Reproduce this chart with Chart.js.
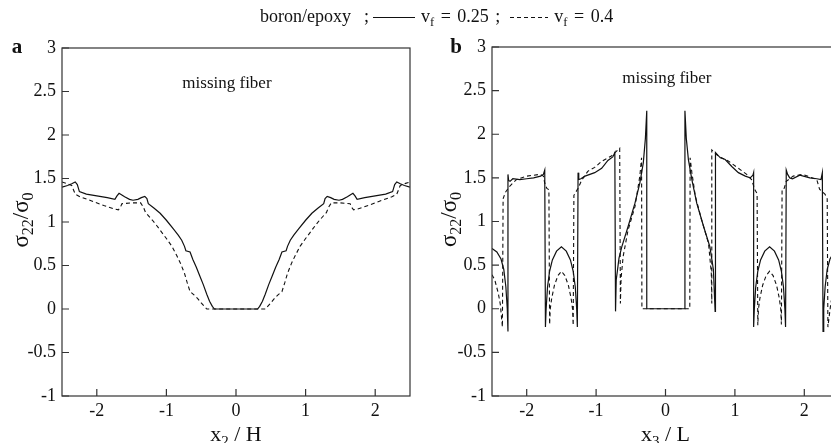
<!DOCTYPE html>
<html><head><meta charset="utf-8">
<script src="https://cdn.jsdelivr.net/npm/chart.js@4.4.0/dist/chart.umd.min.js"></script>
<style>
html,body{margin:0;padding:0;background:#fff;overflow:hidden;width:831px;height:443px;}
#wrap{position:relative;width:831px;height:443px;overflow:hidden;background:#fff;}
canvas{position:absolute;top:0;}
#ca{left:0;}
#cb{left:415px;}
#title{position:absolute;top:5px;left:260px;white-space:nowrap;font-family:'Liberation Serif','Times New Roman',serif;font-size:18px;color:#111;line-height:22px;word-spacing:2px;}
#title sub{font-size:0.7em;vertical-align:-0.3em;line-height:0;}
.ls{display:inline-block;width:42px;height:0;border-top:1.2px solid #111;vertical-align:middle;margin:0 6px 0 4px;}
.ld{display:inline-block;width:38px;height:1.2px;background:repeating-linear-gradient(to right,#111 0 4px,transparent 4px 7px);vertical-align:middle;margin:0 6px 0 10px;}
</style></head>
<body><div id="wrap">
<canvas id="ca" width="420" height="443"></canvas>
<canvas id="cb" width="434" height="443"></canvas>
<div id="title">boron/epoxy&nbsp; ;<span class="ls"></span>v<sub>f</sub>&nbsp;= 0.25 ;<span class="ld"></span>v<sub>f</sub>&nbsp;= 0.4</div>
</div>
<script>
// ---- tick labels ----
const yTicks = [-1, -0.5, 0, 0.5, 1, 1.5, 2, 2.5, 3];
const xTicks = [-2, -1, 0, 1, 2];

// ---- panel a : x2/H ----
const aSolidX = [-2.5,-2.42,-2.36,-2.31,-2.28,-2.25,-2.15,-2.0,-1.85,-1.74,-1.71,-1.68,-1.64,-1.6,-1.53,-1.48,-1.41,-1.36,-1.31,-1.28,-1.26,-1.18,-1.09,-1.0,-0.9,-0.83,-0.78,-0.74,-0.72,-0.66,-0.62,-0.57,-0.52,-0.47,-0.42,-0.38,-0.34,-0.31,
  0.31,0.34,0.38,0.42,0.47,0.52,0.57,0.62,0.66,0.72,0.74,0.78,0.83,0.9,1.0,1.09,1.18,1.26,1.28,1.31,1.36,1.41,1.48,1.53,1.6,1.64,1.68,1.71,1.74,1.85,2.0,2.15,2.25,2.28,2.31,2.36,2.42,2.5];
const aSolidY = [1.40,1.42,1.44,1.46,1.43,1.35,1.32,1.30,1.28,1.26,1.30,1.33,1.31,1.29,1.26,1.25,1.26,1.28,1.295,1.27,1.21,1.16,1.10,1.02,0.92,0.85,0.79,0.72,0.67,0.655,0.57,0.48,0.38,0.28,0.17,0.09,0.03,0.0,
  0.0,0.03,0.09,0.17,0.28,0.38,0.48,0.57,0.655,0.67,0.72,0.79,0.85,0.92,1.02,1.10,1.16,1.21,1.27,1.295,1.28,1.26,1.25,1.26,1.29,1.31,1.33,1.30,1.26,1.28,1.30,1.32,1.35,1.43,1.46,1.44,1.42,1.40];
const aDashX = [-2.5,-2.42,-2.36,-2.33,-2.31,-2.24,-2.1,-1.9,-1.75,-1.69,-1.66,-1.64,-1.5,-1.37,-1.33,-1.3,-1.2,-1.14,-1.0,-0.92,-0.855,-0.8,-0.74,-0.7,-0.66,-0.6,-0.55,-0.5,-0.42,
  0.42,0.5,0.55,0.6,0.66,0.7,0.74,0.8,0.855,0.92,1.0,1.14,1.2,1.3,1.33,1.37,1.5,1.64,1.66,1.69,1.75,1.9,2.1,2.24,2.31,2.33,2.36,2.42,2.5];
const aDashY = [1.46,1.44,1.42,1.36,1.32,1.29,1.25,1.19,1.15,1.14,1.17,1.21,1.22,1.22,1.17,1.11,1.02,0.96,0.81,0.72,0.62,0.53,0.41,0.30,0.20,0.16,0.12,0.07,0.0,
  0.0,0.07,0.12,0.16,0.20,0.30,0.41,0.53,0.62,0.72,0.81,0.96,1.02,1.11,1.17,1.22,1.22,1.21,1.17,1.14,1.15,1.19,1.25,1.29,1.32,1.36,1.42,1.44,1.46];

// ---- panel b : x3/L ----
const bSolidX = [-2.5,-2.43,-2.37,-2.33,-2.30,-2.28,-2.27,-2.27,-2.26,-2.24,-2.2,-2.1,-2.0,-1.9,-1.8,-1.76,-1.74,
  -1.73,-1.72,-1.70,-1.67,-1.63,-1.57,-1.50,-1.43,-1.37,-1.33,-1.30,-1.28,-1.27,
  -1.26,-1.25,-1.22,-1.16,-1.02,-0.92,-0.83,-0.76,-0.73,
  -0.72,-0.71,-0.67,-0.63,-0.54,-0.44,-0.37,-0.32,-0.29,-0.27,-0.27,
  0.28,0.28,0.30,0.33,0.38,0.45,0.55,0.64,0.69,0.715,
  0.72,0.79,0.86,0.955,1.05,1.15,1.22,1.26,1.27,
  1.27,1.28,1.30,1.33,1.37,1.43,1.50,1.57,1.63,1.67,1.70,1.72,1.73,
  1.74,1.76,1.79,1.83,1.935,2.08,2.18,2.24,2.26,
  2.27,2.28,2.30,2.33,2.37,2.43,2.5];
const bSolidY = [0.69,0.65,0.57,0.45,0.25,0.0,-0.26,1.54,1.47,1.46,1.49,1.48,1.49,1.50,1.52,1.54,1.59,
  -0.21,0.0,0.25,0.43,0.56,0.66,0.71,0.66,0.56,0.43,0.25,0.0,-0.21,
  1.56,1.48,1.49,1.52,1.56,1.61,1.70,1.74,1.79,
  -0.03,0.33,0.58,0.71,0.94,1.21,1.44,1.67,1.95,2.27,0.0,
  0.0,2.27,1.95,1.71,1.48,1.21,0.94,0.71,0.45,-0.03,
  1.79,1.73,1.71,1.63,1.56,1.52,1.50,1.53,1.56,
  -0.21,0.0,0.25,0.43,0.56,0.66,0.71,0.66,0.56,0.43,0.25,0.0,-0.21,
  1.59,1.54,1.50,1.49,1.53,1.50,1.49,1.48,1.56,
  -0.26,0.0,0.25,0.45,0.57,0.65,0.69];
const bDashX = [-2.5,-2.46,-2.41,-2.38,-2.35,
  -2.34,-2.31,-2.25,-2.2,-2.15,-2.0,-1.81,-1.76,-1.74,-1.71,-1.68,
  -1.67,-1.66,-1.64,-1.60,-1.55,-1.50,-1.45,-1.40,-1.36,-1.34,-1.33,
  -1.32,-1.29,-1.26,-1.21,-1.12,-1.02,-0.92,-0.78,-0.66,
  -0.65,-0.64,-0.61,-0.54,-0.44,-0.37,-0.345,-0.34,
  0.35,0.355,0.38,0.43,0.52,0.62,0.66,0.667,
  0.667,0.76,0.91,1.05,1.17,1.24,1.29,1.32,
  1.33,1.34,1.36,1.40,1.45,1.50,1.55,1.60,1.64,1.66,1.67,
  1.68,1.71,1.74,1.84,1.98,2.18,2.22,2.30,2.33,
  2.34,2.38,2.41,2.46,2.5];
const bDashY = [0.39,0.33,0.18,0.05,-0.21,
  1.26,1.33,1.40,1.44,1.48,1.52,1.54,1.52,1.44,1.38,1.365,
  -0.18,0.0,0.12,0.27,0.38,0.43,0.38,0.27,0.12,0.0,-0.19,
  1.30,1.34,1.38,1.47,1.575,1.62,1.69,1.75,1.84,
  0.06,0.35,0.60,0.90,1.17,1.52,1.73,0.0,
  0.0,1.73,1.56,1.29,1.02,0.75,0.41,0.06,
  1.82,1.75,1.69,1.61,1.54,1.48,1.36,1.32,
  -0.19,0.0,0.12,0.27,0.38,0.43,0.38,0.27,0.12,0.0,-0.18,
  1.37,1.38,1.46,1.52,1.54,1.48,1.37,1.31,1.26,
  -0.21,0.05,0.18,0.33,0.39];

const FF = "'Liberation Serif','Times New Roman',serif";
const INK = '#111';

function pts(xs, ys){ return xs.map((x,i)=>({x:x, y:ys[i]})); }

function drawRich(ctx, segs, cx, cy, size, rot){
  ctx.save();
  ctx.translate(cx, cy);
  if (rot) ctx.rotate(rot);
  ctx.fillStyle = INK;
  ctx.textBaseline = 'alphabetic';
  ctx.textAlign = 'left';
  let w = 0;
  segs.forEach(s=>{ ctx.font = (s.sub ? Math.round(size*0.68) : size) + 'px ' + FF; s.w = ctx.measureText(s.t).width; w += s.w; });
  let x = -w/2;
  segs.forEach(s=>{
    ctx.font = (s.sub ? Math.round(size*0.68) : size) + 'px ' + FF;
    ctx.fillText(s.t, x, size*0.35 + (s.sub ? size*0.22 : 0));
    x += s.w;
  });
  ctx.restore();
}

function deco(cfg){
  return {
    id: 'deco',
    afterDraw(chart){
      const ctx = chart.ctx, a = chart.chartArea;
      const xs = chart.scales.x, ys = chart.scales.y;
      ctx.save();
      ctx.strokeStyle = '#333';
      ctx.lineWidth = 1.2;
      ctx.strokeRect(a.left, a.top, a.right - a.left, a.bottom - a.top);
      ctx.beginPath();
      yTicks.forEach(v=>{ const y = ys.getPixelForValue(v); ctx.moveTo(a.left, y); ctx.lineTo(a.left + 7, y); });
      xTicks.forEach(v=>{ const x = xs.getPixelForValue(v); ctx.moveTo(x, a.bottom); ctx.lineTo(x, a.bottom - 7); });
      ctx.stroke();
      ctx.restore();
      ctx.save();
      ctx.fillStyle = INK;
      ctx.font = 'bold 21px ' + FF;
      ctx.textAlign = 'center';
      ctx.textBaseline = 'alphabetic';
      ctx.fillText(cfg.letter, cfg.letterX, 53);
      ctx.font = '17px ' + FF;
      ctx.fillText('missing fiber', xs.getPixelForValue(cfg.noteX), ys.getPixelForValue(cfg.noteY));
      ctx.restore();
      drawRich(ctx, cfg.xTitle, xs.getPixelForValue(0), 433, 22, 0);
      drawRich(ctx, cfg.yTitle, cfg.yTitleX, (a.top + a.bottom)/2 - 2, 23, -Math.PI/2);
    }
  };
}

function makeChart(id, solid, dashed, yW, padTop, cfg){
  return new Chart(document.getElementById(id), {
    type: 'line',
    data: { datasets: [
      { data: solid, borderColor: INK, borderWidth: 1.2, pointRadius: 0, tension: 0, fill: false },
      { data: dashed, borderColor: INK, borderWidth: 1.1, borderDash: [4,3], pointRadius: 0, tension: 0, fill: false }
    ]},
    options: {
      responsive: false, animation: false, events: [],
      layout: { padding: { top: padTop, right: 10, left: 0, bottom: 0 } },
      plugins: { legend: { display: false }, tooltip: { enabled: false }, title: { display: false } },
      scales: {
        x: { type: 'linear', min: -2.5, max: 2.5,
          afterBuildTicks: s => { s.ticks = xTicks.map(v=>({value:v})); },
          afterFit: s => { s.height = 47; },
          grid: { display: false, drawTicks: false }, border: { display: false },
          ticks: { font: { family: FF, size: 18 }, color: INK, padding: 4, maxRotation: 0, callback: v => String(v) } },
        y: { type: 'linear', min: -1, max: 3,
          afterBuildTicks: s => { s.ticks = yTicks.map(v=>({value:v})); },
          afterFit: s => { s.width = yW; },
          grid: { display: false, drawTicks: false }, border: { display: false },
          ticks: { font: { family: FF, size: 18 }, color: INK, padding: 6, callback: v => String(v) } }
      }
    },
    plugins: [deco(cfg)]
  });
}

makeChart('ca', pts(aSolidX, aSolidY), pts(aDashX, aDashY), 62, 48, {
  letter: 'a', letterX: 17, noteX: -0.13, noteY: 2.54,
  xTitle: [{t:'x'},{t:'2',sub:true},{t:' / H'}],
  yTitle: [{t:'σ'},{t:'22',sub:true},{t:'/σ'},{t:'0',sub:true}], yTitleX: 20
});
makeChart('cb', pts(bSolidX, bSolidY), pts(bDashX, bDashY), 77, 47, {
  letter: 'b', letterX: 41, noteX: 0.02, noteY: 2.59,
  xTitle: [{t:'x'},{t:'3',sub:true},{t:' / L'}],
  yTitle: [{t:'σ'},{t:'22',sub:true},{t:'/σ'},{t:'0',sub:true}], yTitleX: 33
});
</script>
</body></html>
